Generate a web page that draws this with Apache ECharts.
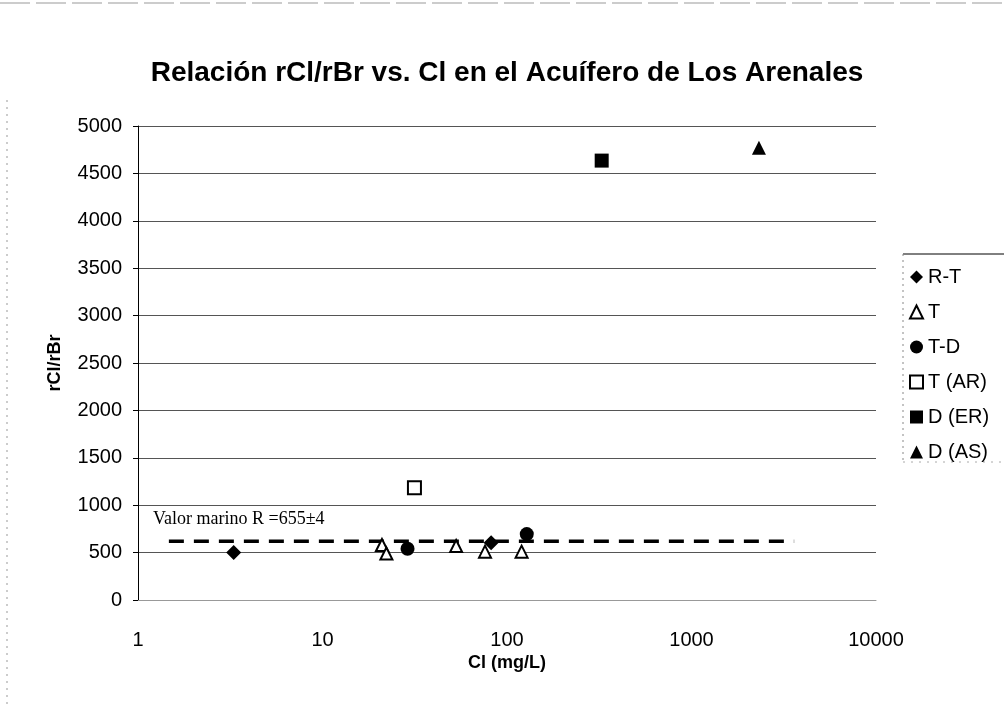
<!DOCTYPE html>
<html>
<head>
<meta charset="utf-8">
<script src="https://cdn.jsdelivr.net/npm/echarts@6/dist/echarts.min.js"></script>
<style>html,body{margin:0;padding:0;background:#fff}#c{width:1004px;height:708px}</style>
</head>
<body>
<div id="c"></div>
<script>
// Data: [Cl (mg/L), rCl/rBr]
var seriesNames = ['R-T', 'T', 'T-D', 'T (AR)', 'D (ER)', 'D (AS)'];
var dataRT  = [[3.3, 500], [82, 605]];
var dataT   = [[21, 580], [22.2, 490], [53, 570], [76, 510], [120, 510]];
var dataTD  = [[28.9, 540], [128, 695]];
var dataTAR = [[31.5, 1185]];
var dataDER = [[326, 4635]];
var dataDAS = [[2320, 4770]];
var marineLine = [[1.47, 620], [3600, 620]];
var marineLabel = 'Valor marino R =655±4';
var xTicks = [1, 10, 100, 1000, 10000];
var yTicks = [0, 500, 1000, 1500, 2000, 2500, 3000, 3500, 4000, 4500, 5000];

var chart = echarts.init(document.getElementById('c'));
var font = 'Liberation Sans, Arial, sans-serif';
function sc(name, data, symbol, size, hollow) {
  return {
    name: name, type: 'scatter', data: data, symbol: symbol, symbolSize: size,
    itemStyle: hollow ? {color: '#fff', borderColor: '#000', borderWidth: 2, opacity: 1} : {color: '#000', opacity: 1},
    z: 5
  };
}
chart.setOption({
  animation: false,
  backgroundColor: '#fff',
  title: {
    text: 'Relación rCl/rBr vs. Cl en el Acuífero de Los Arenales',
    left: 502, top: 54, textAlign: 'center',
    textStyle: {fontFamily: font, fontWeight: 'bold', fontSize: 28, color: '#000'}
  },
  grid: {left: 138, right: 128, top: 126, bottom: 108},
  legend: {
    orient: 'vertical', left: 904, top: 262, itemGap: 15, itemWidth: 13, itemHeight: 13,
    data: seriesNames,
    textStyle: {fontFamily: font, fontSize: 20, color: '#000'}
  },
  xAxis: {
    type: 'log', min: 1, max: 10000, logBase: 10,
    name: 'Cl (mg/L)', nameLocation: 'middle', nameGap: 54, nameMoveOverlap: false,
    nameTextStyle: {fontFamily: font, fontWeight: 'bold', fontSize: 18, color: '#000'},
    axisLine: {show: true, lineStyle: {color: '#999', width: 1}},
    axisTick: {show: false},
    axisLabel: {fontFamily: font, fontSize: 20, color: '#000', margin: 30,
      formatter: function (v) { return String(Math.round(v)); }},
    splitLine: {show: false}
  },
  yAxis: {
    type: 'value', min: 0, max: 5000, interval: 500,
    name: 'rCl/rBr', nameLocation: 'middle', nameGap: 74, nameMoveOverlap: false,
    nameTextStyle: {fontFamily: font, fontWeight: 'bold', fontSize: 18, color: '#000'},
    axisLine: {show: true, lineStyle: {color: '#000', width: 1}},
    axisTick: {show: true, length: 5, lineStyle: {color: '#000'}},
    axisLabel: {fontFamily: font, fontSize: 20, color: '#000', margin: 16,
      formatter: function (v) { return yTicks.indexOf(v) >= 0 ? String(v) : ''; }},
    splitLine: {show: true, lineStyle: {color: '#555', width: 1}}
  },
  series: [
    sc('R-T', dataRT, 'diamond', 15, false),
    sc('T', dataT, 'triangle', 12, true),
    sc('T-D', dataTD, 'circle', 14, false),
    sc('T (AR)', dataTAR, 'rect', 13, true),
    sc('D (ER)', dataDER, 'rect', 14, false),
    sc('D (AS)', dataDAS, 'triangle', 14, false),
    {
      name: 'marine', type: 'line', data: marineLine, symbol: 'none',
      lineStyle: {color: '#000', width: 3.5, type: [15, 10]}, z: 3
    }
  ],
  graphic: [
    {type: 'text', left: 153, top: 510, style: {text: marineLabel, font: '18px "Liberation Serif", "Times New Roman", serif', fill: '#000'}},
    {type: 'line', shape: {x1: 903, y1: 254, x2: 1004, y2: 254}, style: {stroke: '#000', lineWidth: 1}},
    {type: 'line', shape: {x1: 903, y1: 254, x2: 903, y2: 462}, style: {stroke: '#888', lineWidth: 1, lineDash: [2, 4]}},
    {type: 'line', shape: {x1: 903, y1: 462, x2: 1004, y2: 462}, style: {stroke: '#aaa', lineWidth: 1, lineDash: [2, 6]}},
    {type: 'line', shape: {x1: 0, y1: 3, x2: 1004, y2: 3}, style: {stroke: '#999', lineWidth: 1, lineDash: [30, 6]}},
    {type: 'line', shape: {x1: 7, y1: 100, x2: 7, y2: 708}, style: {stroke: '#999', lineWidth: 1, lineDash: [2, 5]}}
  ]
});
</script>
</body>
</html>
